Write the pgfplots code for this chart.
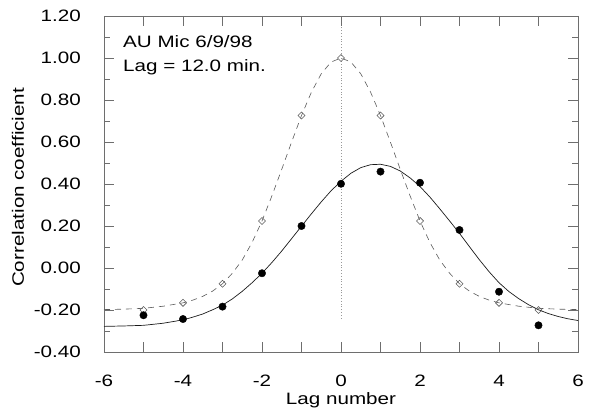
\documentclass[border=0pt]{standalone}
\usepackage{pgfplots}
\pgfplotsset{compat=1.18}
\usepackage{fontspec}
\setmainfont{Liberation Sans}[FakeStretch=1.25]
\definecolor{axc}{HTML}{6E6E6E}
\definecolor{dashc}{HTML}{5A5A5A}
\definecolor{solc}{HTML}{1A1A1A}
\newcommand{\pf}{\fontsize{16.5bp}{19bp}\selectfont}
\begin{document}
\begin{tikzpicture}
\begin{axis}[
  scale only axis,
  width=474bp, height=336bp,
  xmin=-6, xmax=6, ymin=-0.4, ymax=1.2,
  xtick={-6,-5,...,6},
  xticklabels={-6,,-4,,-2,,0,,2,,4,,6},
  ytick={-0.4,-0.2,0,0.2,0.4,0.6,0.8,1.0,1.2},
  yticklabels={-0.40,-0.20,0.00,0.20,0.40,0.60,0.80,1.00,1.20},
  minor ytick={-0.3,-0.1,0.1,0.3,0.5,0.7,0.9,1.1},
  tick align=inside,
  major tick length=10bp, minor tick length=6bp,
  axis line style={axc, line width=0.6pt},
  every tick/.style={axc, line width=0.6pt},
  every minor tick/.style={axc, line width=0.6pt},
  tick label style={font=\pf, inner sep=0pt},
  /pgf/number format/assume math mode=true,
  xticklabel style={anchor=base, yshift=-34bp},
  yticklabel style={anchor=east},
  yticklabel shift=23bp,
  xlabel={Lag number},
  ylabel={Correlation coefficient},
  label style={font=\pf, inner sep=0pt},
  xlabel style={at={(axis description cs:0.5,0)}, anchor=base, yshift=-52bp},
  ylabel style={at={(axis description cs:-0.1688,0.49)}, anchor=base},
  clip=false,
]
\addplot[gray!80, dotted, line width=0.8pt] coordinates {(0,-0.24) (0,1.15)};
\addplot[dashc, line width=0.6pt, dash pattern=on 6bp off 5bp] coordinates {
(-6,-0.198) (-5.5,-0.196) (-5,-0.192) (-4.5,-0.182) (-4,-0.166) (-3.75,-0.153)
(-3.5,-0.135) (-3.25,-0.110) (-3,-0.075) (-2.75,-0.025) (-2.5,0.038) (-2.25,0.122)
(-2,0.224) (-1.75,0.343) (-1.5,0.470) (-1.25,0.600) (-1,0.726) (-0.75,0.837)
(-0.5,0.925) (-0.25,0.981) (0,1.000) (0.25,0.981) (0.5,0.925) (0.75,0.837)
(1,0.726) (1.25,0.600) (1.5,0.470) (1.75,0.343) (2,0.224) (2.25,0.122)
(2.5,0.038) (2.75,-0.025) (3,-0.075) (3.25,-0.110) (3.5,-0.135) (3.75,-0.153)
(4,-0.166) (4.5,-0.182) (5,-0.192) (5.5,-0.196) (6,-0.198)};
\addplot[solc, line width=0.7pt] coordinates {
(-6,-0.278) (-5.5,-0.276) (-5,-0.273) (-4.5,-0.263) (-4,-0.247) (-3.75,-0.234)
(-3.5,-0.219) (-3.25,-0.199) (-3,-0.177) (-2.75,-0.147) (-2.5,-0.111) (-2.25,-0.070)
(-2,-0.025) (-1.75,0.026) (-1.5,0.081) (-1.25,0.140) (-1,0.199) (-0.75,0.258)
(-0.5,0.315) (-0.25,0.368) (0,0.413) (0.25,0.451) (0.5,0.478) (0.75,0.492)
(1,0.494) (1.25,0.484) (1.5,0.462) (1.75,0.429) (2,0.388) (2.25,0.338)
(2.5,0.282) (2.75,0.224) (3,0.165) (3.25,0.102) (3.5,0.040) (3.75,-0.018)
(4,-0.070) (4.25,-0.112) (4.5,-0.146) (4.75,-0.175) (5,-0.199) (5.25,-0.217)
(5.5,-0.231) (5.75,-0.242) (6,-0.250)};
\addplot[only marks, mark=square, mark size=2.5bp, mark options={dashc, rotate=45, line width=0.6pt, solid}] coordinates {
(-5,-0.200) (-4,-0.166) (-3,-0.075) (-2,0.224) (-1,0.726) (0,1.000)
(1,0.726) (2,0.224) (3,-0.075) (4,-0.166) (5,-0.200)};
\addplot[only marks, mark=*, mark size=3.7bp, mark options={black}] coordinates {
(-5,-0.225) (-4,-0.243) (-3,-0.184) (-2,-0.025) (-1,0.200) (0,0.401)
(1,0.459) (2,0.406) (3,0.181) (4,-0.113) (5,-0.273)};
\node[anchor=base west, inner sep=0pt, font=\pf] at (axis cs:-5.52,1.052) {AU Mic 6/9/98};
\node[anchor=base west, inner sep=0pt, font=\pf] at (axis cs:-5.52,0.938) {Lag = 12.0 min.};
\end{axis}
\path (current axis.south west) ++(-104bp,-63bp) coordinate (bbA);
\path (current axis.north east) ++(11bp,16bp) coordinate (bbB);
\useasboundingbox (bbA) rectangle (bbB);
\end{tikzpicture}
\end{document}
